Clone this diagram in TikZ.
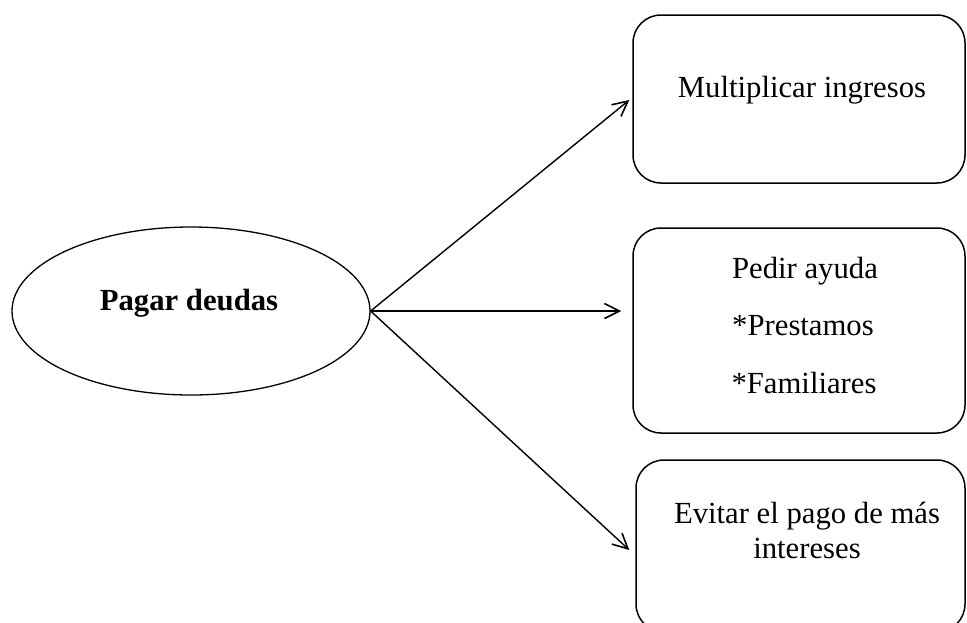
\documentclass[tikz,border=0pt]{standalone}
\usepackage{fontspec}
\setmainfont{Liberation Serif}
\usetikzlibrary{arrows.meta,shapes.geometric}
\begin{document}
\begin{tikzpicture}[x=1pt,y=-1pt,
  every node/.style={font=\fontsize{30.7}{36}\selectfont},
  box/.style={draw, line width=1.5pt, rounded corners=28pt, inner sep=0pt},
  oval/.style={draw, ellipse, line width=1.3pt, inner sep=0pt,
    minimum width=358pt, minimum height=168pt},
  label/.style={anchor=base, inner sep=0pt},
  link/.style={line width=1.4pt,
    -{Straight Barb[length=15pt,width=15pt,line width=1.6pt]}}]
\useasboundingbox (0,0) rectangle (967,622);
\clip (0,0) rectangle (967,622);

% central idea
\node[oval] (pd) at (191,311) {};
\node[label, font=\fontsize{30.7}{36}\selectfont\bfseries] (pdt) at (189,310) {Pagar deudas};

% the three options
\node[box, minimum width=332pt, minimum height=168pt] (b1) at (799,99) {};
\node[box, minimum width=332pt, minimum height=205pt] (b2) at (799,330.5) {};
\node[box, minimum width=329pt, minimum height=172pt] (b3) at (800.5,546) {};

\node[label] (t1) at (802,97) {Multiplicar ingresos};
\node[label] (t2a) at (805,278) {Pedir ayuda};
\node[label] (t2b) at (803,335) {*Prestamos};
\node[label] (t2c) at (804,393) {*Familiares};
\node[label] (t3a) at (807,523) {Evitar el pago de más};
\node[label] (t3b) at (807,558) {intereses};

% connectors
\coordinate (e1) at ([xshift=-3pt,yshift=-1pt]b1.west);
\coordinate (e2) at ([xshift=-11pt]b2.west |- pd.east);
\coordinate (e3) at ([xshift=-6pt,yshift=-4pt]b3.west);
\draw[link] (pd.east) -- (e1);
\draw[link] (pd.east) -- (e2);
\draw[link] (pd.east) -- (e3);
\end{tikzpicture}
\end{document}
